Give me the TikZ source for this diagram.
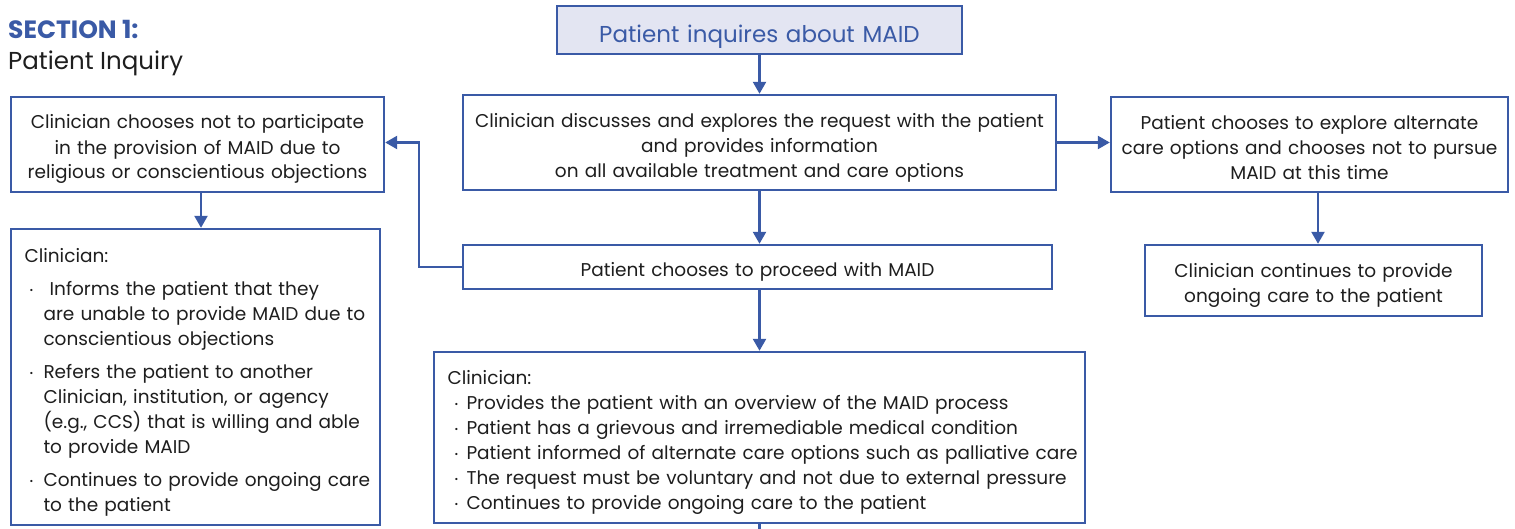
\documentclass[tikz,border=0pt]{standalone}
\usepackage{fontspec}
\setmainfont{Poppins}
\usepackage{tikz}
\usetikzlibrary{arrows.meta,
           positioning,
           calc}
\definecolor{mblue}{RGB}{58,90,166}
\definecolor{mlav}{RGB}{227,229,242}
\definecolor{mtext}{RGB}{30,30,30}
% puce avec retrait suspendu
\newcommand{\puce}[2][5pt]{\par\hangindent=19pt\hangafter=1\noindent\makebox[19pt][l]{\hspace{#1}\raisebox{2pt}{\fontsize{9}{9}\selectfont\textbullet}}#2}

\begin{document}
\begin{tikzpicture}[x=1pt,y=-1pt,
  box/.style={draw=mblue,line width=2.4pt,fill=white,text=mtext,font=\fontsize{18.5}{25}\selectfont,align=center,inner sep=4pt},
  lower/.style={execute at begin node={\rule{0pt}{#1}}},
  lower/.default=24pt,
  arr/.style={draw=mblue,line width=2.4pt,-{Triangle[length=12pt,width=13pt]}}]
\useasboundingbox(0,0)rectangle(1515,529);
% titre
\node[anchor=west,inner sep=0,text=mblue,font=\fontsize{25}{28}\selectfont\bfseries](sec)at(8,29){SECTION 1:};
\node[anchor=west,inner sep=0,text=mtext,font=\fontsize{24.5}{28}\selectfont](sectitle)at(8,63){Patient Inquiry};
% boites
\node[box,fill=mlav,text=mblue,font=\fontsize{23}{26}\selectfont,minimum width=405pt,minimum height=48pt,text width=397pt,lower=31pt](inq)at(759.5,30){Patient inquires about MAID};
\node[box,minimum width=593pt,minimum height=95pt,text width=585pt,lower](disc)at(759.5,142.5){Clinician discusses and explores the request with the patient\\and provides information\\on all available treatment and care options};
\node[box,minimum width=373pt,minimum height=95pt,text width=365pt,lower](nopart)at(197.5,144.5){Clinician chooses not to participate\\in the provision of MAID due to\\religious or conscientious objections};
\node[box,minimum width=397pt,minimum height=95pt,text width=389pt,lower=20pt](alt)at(1309.5,144.5){Patient chooses to explore alternate\\care options and chooses not to pursue\\MAID at this time};
\node[box,minimum width=589pt,minimum height=44pt,text width=581pt,lower](proceed)at(757.5,267){Patient chooses to proceed with MAID};
\node[box,minimum width=337pt,minimum height=71pt,text width=329pt,lower](care)at(1313.5,280.5){Clinician continues to provide\\ongoing care to the patient};
\node[box,minimum width=369pt,minimum height=296pt,text width=356pt,inner xsep=6.5pt,align=left,lower](objinfo)at(195.5,377){\leftskip=7pt\rightskip=-30pt plus 1fil Clinician:\par\vspace{8pt}
\puce[5pt]{ Informs the patient that they\newline are unable to provide MAID due to\newline conscientious objections}\par\vspace{8pt}
\puce[5pt]{Refers the patient to another\newline Clinician, institution, or agency\newline (e.g., CCS) that is willing and able\newline to provide MAID}\par\vspace{8pt}
\puce[5pt]{Continues to provide ongoing care\newline to the patient}\par};
\node[box,minimum width=651pt,minimum height=171pt,text width=628pt,inner xsep=11.5pt,align=left,lower](info)at(759.5,437.5){\leftskip=2pt\rightskip=-30pt plus 1fil Clinician:
\puce[7pt]{Provides the patient with an overview of the MAID process}
\puce[7pt]{Patient has a grievous and irremediable medical condition}
\puce[7pt]{Patient informed of alternate care options such as palliative care}
\puce[7pt]{The request must be voluntary and not due to external pressure}
\puce[7pt]{Continues to provide ongoing care to the patient}\par};
\coordinate(next)at(759.5,529);
% fleches
\draw[arr](inq)--(disc);
\draw[arr](disc)--(disc|-proceed.north);
\draw[arr](proceed.south-|info)--(info);
\draw[arr](disc.east)--(alt.west|-disc.east);
\draw[arr](alt.south-|1318,0)--(1318,0|-care.north);
\draw[arr](201,0|-nopart.south)--(201,0|-objinfo.north);
\draw[arr](proceed.west)--++(-43,0)|-(nopart.east|-disc.east);
\draw[mblue,line width=2.4pt](info.south)--(next);
\end{tikzpicture}
\end{document}
